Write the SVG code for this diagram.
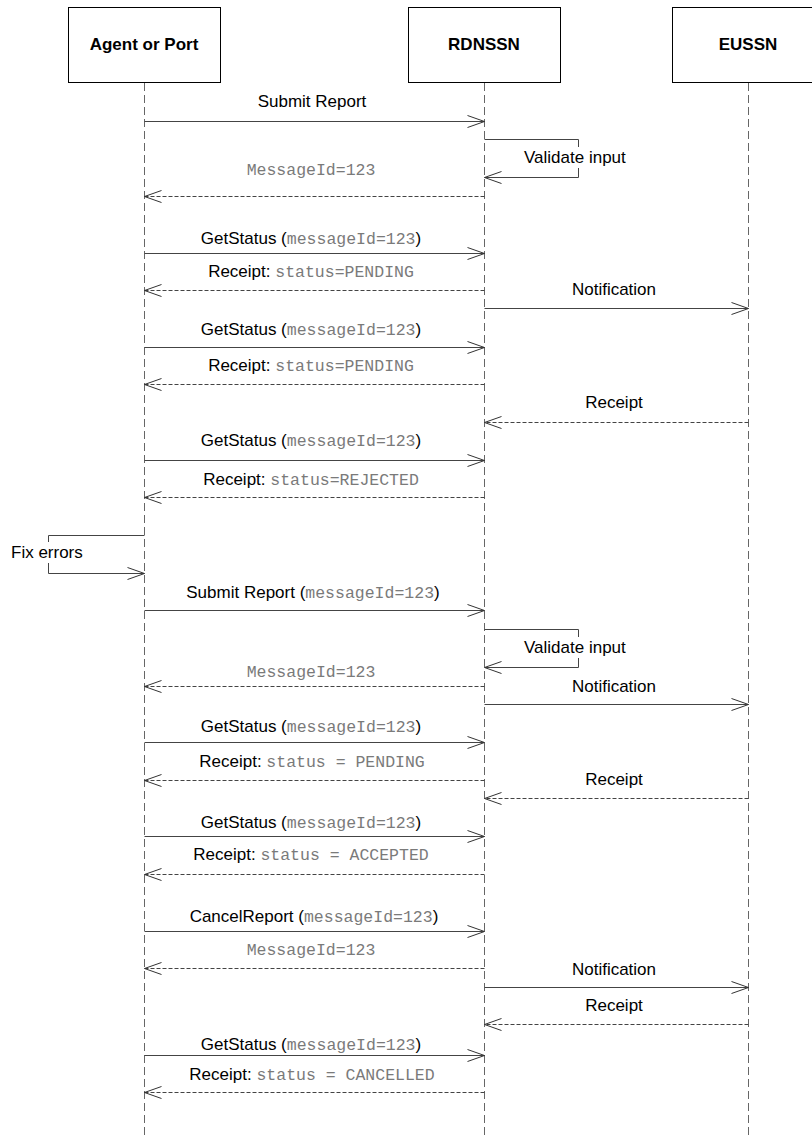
<svg xmlns="http://www.w3.org/2000/svg" width="812" height="1137" viewBox="0 0 812 1137">
<style>
.box{fill:#fff;stroke:#000;stroke-width:1}
.title{font-family:"Liberation Sans",Arial,sans-serif;font-size:17px;font-weight:bold;fill:#000;text-anchor:middle}
.life{stroke:#666;stroke-width:1;stroke-dasharray:8,4;fill:none}
.msg{stroke:#444;stroke-width:1;fill:none;marker-end:url(#arr)}
.ret{stroke:#444;stroke-width:1;fill:none;stroke-dasharray:4,2;marker-end:url(#arr)}
.t{font-family:"Liberation Sans",Arial,sans-serif;font-size:17px;fill:#000;text-anchor:middle}
.l{font-family:"Liberation Sans",Arial,sans-serif;font-size:17px;fill:#000}
.m{font-family:"Liberation Mono","Courier New",monospace;font-size:16.5px;fill:#7a7a7a}
.bg{fill:#fff;stroke:none}
</style>
<defs>
<marker id="arr" markerUnits="userSpaceOnUse" markerWidth="20" markerHeight="14" refX="18" refY="7" orient="auto" overflow="visible">
<path d="M1,1 L18,7 L1,13" fill="none" stroke="#333" stroke-width="1" stroke-dasharray="none"/>
</marker>
</defs>
<g id="agent">
<rect class="box" x="68.5" y="7.5" width="152" height="75"/>
<text class="title" x="144" y="50">Agent or Port</text>
<line class="life" x1="144.5" y1="83" x2="144.5" y2="1137"/>
</g>
<g id="rdnssn">
<rect class="box" x="408.5" y="7.5" width="152" height="75"/>
<text class="title" x="484" y="50">RDNSSN</text>
<line class="life" x1="484.5" y1="83" x2="484.5" y2="1137"/>
</g>
<g id="eussn">
<rect class="box" x="672.5" y="7.5" width="152" height="75"/>
<text class="title" x="748" y="50">EUSSN</text>
<line class="life" x1="748.5" y1="83" x2="748.5" y2="1137"/>
</g>
<g id="connectors">
<path class="msg" d="M144.5,121.5 H484.5"/>
<path class="msg" d="M484.5,139.5 H578.5 V177.5 H484.5"/>
<path class="ret" d="M484.5,196.5 H144.5"/>
<path class="msg" d="M144.5,253.5 H484.5"/>
<path class="ret" d="M484.5,290.5 H144.5"/>
<path class="msg" d="M484.5,308.5 H748.5"/>
<path class="msg" d="M144.5,347.5 H484.5"/>
<path class="ret" d="M484.5,384.5 H144.5"/>
<path class="ret" d="M748.5,422.5 H484.5"/>
<path class="msg" d="M144.5,460.5 H484.5"/>
<path class="ret" d="M484.5,497.5 H144.5"/>
<path class="msg" d="M144.5,535.5 H48.5 V573.5 H144.5"/>
<path class="msg" d="M144.5,610.5 H484.5"/>
<path class="msg" d="M484.5,629.5 H578.5 V667.5 H484.5"/>
<path class="ret" d="M484.5,686.5 H144.5"/>
<path class="msg" d="M484.5,704.5 H748.5"/>
<path class="msg" d="M144.5,742.5 H484.5"/>
<path class="ret" d="M484.5,780.5 H144.5"/>
<path class="ret" d="M748.5,798.5 H484.5"/>
<path class="msg" d="M144.5,836.5 H484.5"/>
<path class="ret" d="M484.5,874.5 H144.5"/>
<path class="msg" d="M144.5,931.5 H484.5"/>
<path class="ret" d="M484.5,968.5 H144.5"/>
<path class="msg" d="M484.5,987.5 H748.5"/>
<path class="ret" d="M748.5,1024.5 H484.5"/>
<path class="msg" d="M144.5,1055.5 H484.5"/>
<path class="ret" d="M484.5,1092.5 H144.5"/>
</g>
<g id="labels">
<text class="t" x="312" y="107">Submit Report</text>
<rect class="bg" x="522" y="147" width="108" height="21"/>
<text class="l" x="524" y="163">Validate input</text>
<text class="t" x="311" y="175"><tspan class="m">MessageId=123</tspan></text>
<text class="t" x="311" y="244">GetStatus (<tspan class="m">messageId=123</tspan>)</text>
<text class="t" x="311" y="277">Receipt: <tspan class="m">status=PENDING</tspan></text>
<text class="t" x="614" y="295">Notification</text>
<text class="t" x="311" y="335">GetStatus (<tspan class="m">messageId=123</tspan>)</text>
<text class="t" x="311" y="371">Receipt: <tspan class="m">status=PENDING</tspan></text>
<text class="t" x="614" y="408">Receipt</text>
<text class="t" x="311" y="446">GetStatus (<tspan class="m">messageId=123</tspan>)</text>
<text class="t" x="311" y="485">Receipt: <tspan class="m">status=REJECTED</tspan></text>
<rect class="bg" x="9" y="542" width="76" height="21"/>
<text class="l" x="11" y="558">Fix errors</text>
<text class="t" x="313" y="598">Submit Report (<tspan class="m">messageId=123</tspan>)</text>
<rect class="bg" x="522" y="637" width="108" height="21"/>
<text class="l" x="524" y="653">Validate input</text>
<text class="t" x="311" y="677"><tspan class="m">MessageId=123</tspan></text>
<text class="t" x="614" y="692">Notification</text>
<text class="t" x="311" y="732">GetStatus (<tspan class="m">messageId=123</tspan>)</text>
<text class="t" x="312" y="767">Receipt: <tspan class="m">status = PENDING</tspan></text>
<text class="t" x="614" y="785">Receipt</text>
<text class="t" x="311" y="828">GetStatus (<tspan class="m">messageId=123</tspan>)</text>
<text class="t" x="311" y="860">Receipt: <tspan class="m">status = ACCEPTED</tspan></text>
<text class="t" x="314" y="922">CancelReport (<tspan class="m">messageId=123</tspan>)</text>
<text class="t" x="311" y="955"><tspan class="m">MessageId=123</tspan></text>
<text class="t" x="614" y="975">Notification</text>
<text class="t" x="614" y="1011">Receipt</text>
<text class="t" x="311" y="1050">GetStatus (<tspan class="m">messageId=123</tspan>)</text>
<text class="t" x="312" y="1080">Receipt: <tspan class="m">status = CANCELLED</tspan></text>
</g>
</svg>
